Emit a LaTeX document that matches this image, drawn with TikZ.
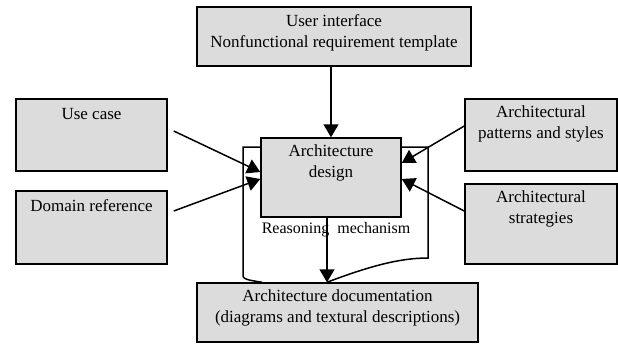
\documentclass[tikz,border=0pt]{standalone}
\usepackage{fontspec}
\setmainfont{Liberation Serif}
\usetikzlibrary{arrows.meta}
\definecolor{boxgray}{RGB}{220,220,220}
\begin{document}
\begin{tikzpicture}[x=1pt, y=-1pt,
	box/.style={draw=black, line width=1.5pt, fill=boxgray, inner sep=0pt},
	txt/.style={align=center, font=\fontsize{17}{20.5}\selectfont, inner sep=0pt},
	arr/.style={line width=1.5pt, -{Triangle[length=13pt, width=15pt]}},
	backline/.style={line width=1.5pt}]
	\useasboundingbox (0,0) rectangle (618,343);
	% Kaesten
	\node[box, minimum width=274pt, minimum height=59pt] (ui) at (334, 36.5) {};
	\node[box, minimum width=151pt, minimum height=72pt] (usecase) at (91.5, 135) {};
	\node[box, minimum width=151pt, minimum height=73pt] (domain) at (91.5, 227.5) {};
	\node[box, minimum width=152pt, minimum height=72pt] (patterns) at (541, 135) {};
	\node[box, minimum width=152pt, minimum height=80pt] (strategies) at (541, 224) {};
	\node[box, minimum width=140pt, minimum height=79pt] (design) at (331, 177.5) {};
	\node[box, minimum width=281pt, minimum height=59pt] (doc) at (337.5, 312.5) {};
	% Beschriftungen
	\node[txt] (uitext) at (334, 33) {User interface\\Nonfunctional requirement template};
	\node[txt] (usecasetext) at (91.5, 114) {Use case};
	\node[txt] (domaintext) at (91.5, 206) {Domain reference};
	\node[txt] (patternstext) at (541, 124) {Architectural\\patterns and styles};
	\node[txt] (strategiestext) at (541, 209) {Architectural\\strategies};
	\node[txt] (designtext) at (331, 163) {Architecture\\design};
	\node[txt] (doctext) at (337.5, 308) {Architecture documentation\\(diagrams and textural descriptions)};
	\node[txt, font=\fontsize{16}{19}\selectfont] (reason) at (336, 230) {Reasoning\ \ mechanism};
	% Pfeile
	\draw[arr] (design.north |- ui.south) -- (design.north);
	\draw[arr] ([shift={(6,-4)}]usecase.east) -- ([shift={(0,-5.5)}]design.west);
	\draw[arr] ([shift={(6,-16.5)}]domain.east) -- ([shift={(0,1.5)}]design.west);
	\draw[arr] ([shift={(0,-9)}]patterns.west) -- ([shift={(0,-14.5)}]design.east);
	\draw[arr] ([shift={(0,-13)}]strategies.west) -- ([shift={(0,1.5)}]design.east);
	\draw[arr] ([xshift=-4pt]design.south) -- ([xshift=-4pt]design.south |- doc.north);
	% Rueckkopplung
	\coordinate (leftcorner) at (243, 147);
	\coordinate (rightcorner) at (428, 147);
	\draw[backline] ([shift={(0,-30.5)}]design.west) -- (leftcorner) -- (243, 276)
		.. controls (243, 280) and (255, 281) .. ([shift={(-75.5,0)}]doc.north);
	\draw[backline] ([xshift=-10.5pt]doc.north) .. controls (370, 266) and (400, 258) .. (428, 258)
		-- (rightcorner) -- ([shift={(0,-30.5)}]design.east);
\end{tikzpicture}
\end{document}
